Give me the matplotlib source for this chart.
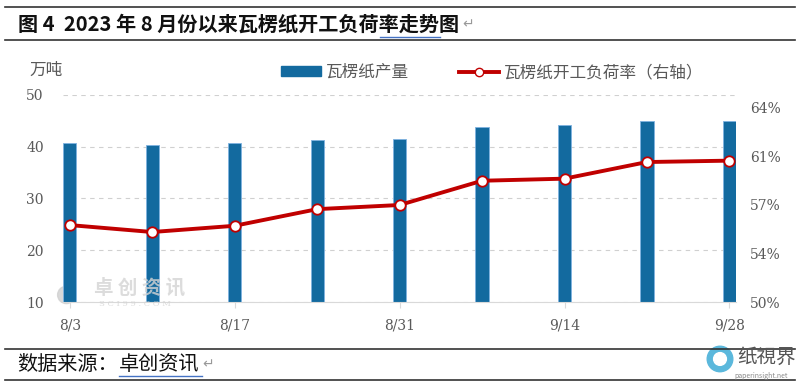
import numpy as np
import matplotlib
matplotlib.use("Agg")
from matplotlib import pyplot as plt
from matplotlib.lines import Line2D
from matplotlib.patches import Patch, Ellipse

plt.rcParams['font.family'] = ['Noto Sans CJK SC', 'DejaVu Sans']

# data
dates = ["8/3", "8/10", "8/17", "8/24", "8/31", "9/7", "9/14", "9/21", "9/28"]
output = [40.8, 40.25, 40.8, 41.3, 41.5, 43.85, 44.1, 44.9, 44.9]        # 万吨
rate = [55.55, 55.05, 55.5, 56.7, 57.0, 58.75, 58.9, 60.1, 60.2]          # %
left_ticks = [10, 20, 30, 40, 50]
right_ticks = [50, 53.5, 57, 60.5, 64]
right_labels = ["50%", "54%", "57%", "61%", "64%"]

BAR = '#136a9f'
RED = '#c00000'
GREY = '#595959'

fig = plt.figure(figsize=(8, 3.86), dpi=100)
ax = fig.add_axes([0.079, 0.2176, 0.841, 0.5364])
ax2 = ax.twinx()

x = np.arange(len(dates))
bw = 0.16
ax.bar(x, output, width=bw, bottom=0, color=BAR, edgecolor='#7fb2e0',
       linewidth=0.6, zorder=2)
ax.set_ylim(10, 50)
ax.set_xlim(-bw / 2, x[-1] + bw / 2)
ax.set_yticks(left_ticks)
ax.yaxis.grid(True, linestyle=(0, (4, 4)), color='#d0d0d0', linewidth=0.8)
ax.set_axisbelow(True)
ax.set_xticks(x[::2])
ax.set_xticklabels(dates[::2])

ax2.plot(x, rate, color=RED, linewidth=2.8, marker='o', markersize=7.5,
         markerfacecolor='white', markeredgecolor=RED, markeredgewidth=1.3,
         zorder=5)
ax2.set_ylim(50, 64.94)
ax2.set_yticks(right_ticks)
ax2.set_yticklabels(right_labels)

for a in (ax, ax2):
    for s in a.spines.values():
        s.set_visible(False)
    a.tick_params(axis='y', length=0, labelsize=10, labelcolor=GREY)
ax.spines['bottom'].set_visible(True)
ax.spines['bottom'].set_color('#d9d9d9')
ax.tick_params(axis='x', length=4, color='#d9d9d9', labelsize=10,
               labelcolor=GREY, pad=8)
ax.tick_params(axis='y', pad=14)
ax2.tick_params(axis='y', pad=10)
for lab in ax.get_yticklabels() + ax2.get_yticklabels() + ax.get_xticklabels():
    lab.set_family(['DejaVu Serif'])

# watermark
fig.add_artist(Ellipse((0.083, 0.236), 0.022, 0.045, color='#d0d0d0', alpha=0.8, zorder=0))
fig.text(0.118, 0.24, "卓 创 资 讯", fontsize=14, color='#d4d4d4', alpha=0.8,
         fontweight='bold', zorder=0)
fig.text(0.124, 0.208, "S C I 9 9 . C O M", fontsize=6, color='#d4d4d4',
         family=['DejaVu Serif'], alpha=0.8, zorder=0)

fig.text(0.037, 0.805, "万吨", fontsize=12, color=GREY)

handles = [Patch(facecolor=BAR, edgecolor=BAR),
           Line2D([0], [0], color=RED, linewidth=2.8, marker='o', markersize=6,
                  markerfacecolor='white', markeredgecolor=RED)]
fig.legend(handles, ["瓦楞纸产量", "瓦楞纸开工负荷率（右轴）"], loc='center',
           bbox_to_anchor=(0.615, 0.812), ncol=2, frameon=False, fontsize=12,
           labelcolor=GREY, handlelength=2.4, handleheight=0.55,
           columnspacing=3.0, handletextpad=0.3)

# title and footer in document style
fig.add_artist(Line2D([0.006, 0.994], [0.981, 0.981], color='#333333', linewidth=1.2))
fig.add_artist(Line2D([0.006, 0.994], [0.896, 0.896], color='#333333', linewidth=1.2))
fig.text(0.022, 0.938, "图 4  2023 年 8 月份以来瓦楞纸开工负荷率走势图",
         fontsize=14.5, fontweight='bold', color='#111111', va='center')
fig.text(0.578, 0.936, "↵", fontsize=10, color='#999999', va='center')
fig.add_artist(Line2D([0.475, 0.55], [0.903, 0.903], color='#4472c4', linewidth=1))
fig.add_artist(Line2D([0.006, 0.994], [0.096, 0.096], color='#333333', linewidth=1.2))
fig.add_artist(Line2D([0.006, 0.994], [0.016, 0.016], color='#333333', linewidth=1.2))
fig.text(0.021, 0.055, "数据来源：", fontsize=14.5, color='#111111', va='center')
fig.text(0.149, 0.055, "卓创资讯", fontsize=14.5, color='#111111', va='center')
fig.text(0.253, 0.055, "↵", fontsize=10, color='#999999', va='center')
fig.add_artist(Line2D([0.149, 0.253], [0.025, 0.025], color='#4472c4', linewidth=1))

# logo
fig.add_artist(Ellipse((0.9, 0.07), 0.032, 0.066, color='#5bb8dc', zorder=1))
fig.add_artist(Ellipse((0.9, 0.07), 0.016, 0.033, color='white', zorder=2))
fig.text(0.995, 0.075, "纸視界", fontsize=14, color='#555555', va='center', ha='right')
fig.text(0.985, 0.025, "paperinsight.net", fontsize=5, color='#888888', va='center', ha='right')

fig.savefig("out.png", dpi=100)
